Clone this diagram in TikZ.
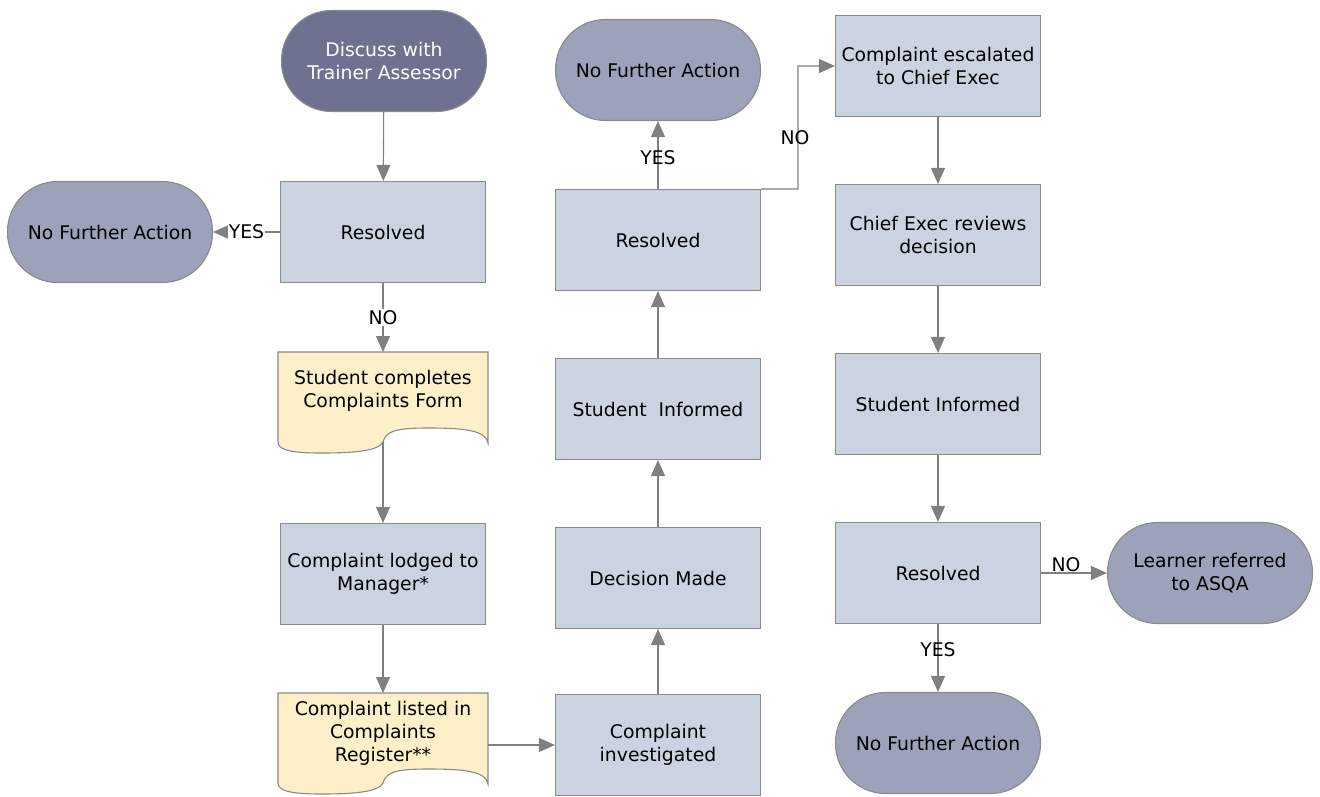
\documentclass[tikz,border=0pt]{standalone}
\usepackage{fontspec}
\setmainfont{DejaVu Sans}
\usetikzlibrary{arrows.meta}
\definecolor{boxfill}{HTML}{CBD3E0}
\definecolor{termfill}{HTML}{9CA2B9}
\definecolor{darkterm}{HTML}{6E7190}
\definecolor{docfill}{HTML}{FDF0C8}
\definecolor{edge}{HTML}{8A8A8A}
\definecolor{arrowc}{HTML}{808080}
\tikzset{
  base/.style={draw=edge, line width=1.1pt, align=center, font=\fontsize{18.8}{23}\selectfont, text=black},
  procbox/.style={base, fill=boxfill, minimum width=205pt, minimum height=101pt},
  term/.style={base, fill=termfill, minimum width=205pt, minimum height=101pt, rounded corners=50pt},
  darkterm/.style={term, fill=darkterm, text=white},
  doctext/.style={align=center, font=\fontsize{18.8}{23}\selectfont, text=black},
  arr/.style={draw=arrowc, line width=1.1pt, -{Triangle[length=16pt,width=14pt]}},
  lab/.style={font=\fontsize{18.8}{22}\selectfont, text=black, inner sep=1pt},
  docpic/.pic={
    \draw[draw=edge, line width=1.1pt, fill=docfill]
      (0,0) -- (210,0) -- (210,91)
      .. controls (208,78) and (185,76) .. (150,76)
      .. controls (115,76) and (108,80) .. (105,90)
      .. controls (100,100) and (70,101) .. (42,101)
      .. controls (10,101) and (0,97) .. (0,90) -- cycle;
  }
}
\begin{document}
\begin{tikzpicture}[x=1pt, y=-1pt]
\useasboundingbox (0,0) rectangle (1320,796);

% column 1
\node[darkterm] (start) at (384,61) {Discuss with\\Trainer Assessor};
\node[procbox] (res1) at (383,232) {Resolved};
\node[term] (nfa1) at (110,232) {No Further Action};
\pic at (278,352) {docpic};
\node[doctext] (form) at (383,391) {Student completes\\Complaints Form};
\coordinate (formb) at (383,442);
\node[procbox] (lodged) at (383,574) {Complaint lodged to\\Manager*};
\pic at (278,693) {docpic};
\node[doctext] (listed) at (383,733) {Complaint listed in\\Complaints\\Register**};
\coordinate (listedr) at (488,745);

% column 2
\node[procbox] (invest) at (658,745) {Complaint\\investigated};
\node[procbox] (decision) at (658,578) {Decision Made};
\node[procbox] (inf1) at (658,409) {Student\ \ Informed};
\node[procbox] (res2) at (658,240) {Resolved};
\node[term] (nfa2) at (658,70) {No Further Action};

% column 3
\node[procbox] (esc) at (938,66) {Complaint escalated\\to Chief Exec};
\node[procbox] (chief) at (938,235) {Chief Exec reviews\\decision};
\node[procbox] (inf2) at (938,404) {Student Informed};
\node[procbox] (res3) at (938,573) {Resolved};
\node[term] (asqa) at (1210,573) {Learner referred\\to ASQA};
\node[term] (nfa3) at (938,743) {No Further Action};

% connectors
\draw[arr] (start) -- (res1);
\draw[arr] (res1) -- node[lab, fill=white, pos=0.5] {YES} (nfa1);
\draw[arr] (res1) -- node[lab, fill=white, pos=0.5] {NO} (form.north |- 352,352);
\draw[arr] (formb) -- (lodged);
\draw[arr] (lodged) -- (listed.north |- 693,693);
\draw[arr] (listedr) -- (invest.west |- listedr);
\draw[arr] (invest) -- (decision);
\draw[arr] (decision) -- (inf1);
\draw[arr] (inf1) -- (res2);
\draw[arr] (res2) -- node[lab, pos=0.46] {YES} (nfa2);
\coordinate (elbow) at (798,189);
\draw[arr] (res2.north east) -- (elbow) |- (esc.west);
\node[lab] (nolab) at (795,138) {NO};
\draw[arr] (esc) -- (chief);
\draw[arr] (chief) -- (inf2);
\draw[arr] (inf2) -- (res3);
\draw[arr] (res3) -- node[lab, above, pos=0.38] {NO} (asqa);
\draw[arr] (res3) -- node[lab, pos=0.38] {YES} (nfa3);
\end{tikzpicture}
\end{document}
